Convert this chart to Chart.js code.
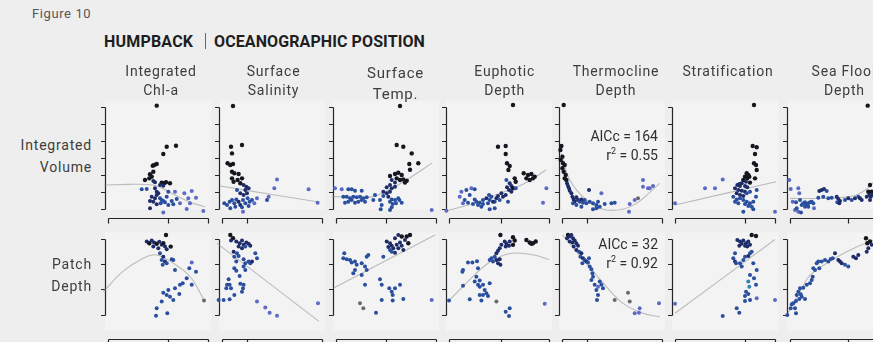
<!DOCTYPE html>
<html><head><meta charset="utf-8">
<script src="https://cdn.jsdelivr.net/npm/chart.js@4.4.1/dist/chart.umd.min.js"></script>
<style>
html,body{margin:0;padding:0;width:873px;height:342px;overflow:hidden;background:#eeeeee;font-family:Roboto,"Open Sans",sans-serif;}
#fig{position:relative;width:873px;height:342px;}
canvas{position:absolute;z-index:1;}
.t{position:absolute;white-space:nowrap;color:#3d3d3d;z-index:3;}
.hdr{width:140px;text-align:center;font-size:14px;line-height:19px;letter-spacing:0.8px;}
.row{width:90px;text-align:right;font-size:14px;line-height:22px;letter-spacing:0.8px;left:0;}
.stat{text-align:right;font-size:14px;line-height:19px;color:#2f2f2f;}
.stat sup{font-size:9px;line-height:0;}
</style></head>
<body><div id="fig"></div>
<script>
// ---------- text ----------
const figureLabel = 'Figure 10';
const titleLeft = 'HUMPBACK';
const titleRight = 'OCEANOGRAPHIC POSITION';
const columnTitles = [['Integrated','Chl-a'],['Surface','Salinity'],['Surface','Temp.'],['Euphotic','Depth'],['Thermocline','Depth'],['Stratification'],['Sea Floor','Depth']];
const rowTitles = [['Integrated','Volume'],['Patch','Depth']];
const statsVol = ['AICc = 164', '0.55'];
const statsDepth = ['AICc = 32', '0.92'];

// ---------- axis ticks ----------
const volTicks = [0,10,20,30,40,50,60];
const depthTicks = [0,10,20,30];
const xTicksByCol = [[0,60,100],[0,25,100],[0,50,100],[0,52.4,100],[0,24.7,100],[0,70,100],[0,58,100]];

// ---------- points [x, y, colourGroup] ----------
const chlVol = [[48.7,60.6,0],[58.7,36.6,0],[68,37.2,0],[55.3,32.3,0],[46.3,25.9,0],[48.7,26.5,0],[44.7,25.5,0],[45.3,22,0],[42,20.5,0],[43.7,19.1,0],[41.3,18.1,0],[37,17.1,0],[45.3,16.5,1],[47,15.8,1],[53.7,15.6,0],[56,15.2,0],[58,15.8,0],[62,15.2,0],[52,14.2,1],[55.3,13.8,1],[33.7,11.7,2],[38.7,11.9,2],[47,12.3,1],[48.7,10.3,1],[50.3,9.4,1],[48.7,8.4,1],[47,6.4,1],[43.7,7.4,1],[42,4.9,1],[45.3,4.4,1],[52,6.4,2],[53.7,5.4,2],[55.3,4.9,2],[52.7,3.5,2],[57,4.1,2],[60.3,10.3,2],[67,10.3,3],[76.3,9.4,3],[83.7,10.7,3],[58.7,7.4,2],[63.7,4.9,2],[68.7,6,2],[72,3.5,3],[80.3,6.4,3],[82,3.5,3],[88,6.8,3],[60.3,2.5,2],[65.3,2.9,2],[55.3,-1.8,3],[78.7,0.2,3],[95.3,-1,3],[-4.7,3.9,2],[48.7,2.9,1],[42,0.6,1]];
const chlDepth = [[44.7,34.5,0],[47,34.1,0],[48.7,34.7,0],[55.3,33.4,0],[68,33.7,0],[58,31.4,0],[38.7,28.8,1],[41.3,28.1,0],[43.7,29.2,1],[46,28.4,1],[48.7,27.9,0],[51.3,28.7,1],[53.7,27.5,1],[55.3,28.1,0],[57,26.8,1],[45.3,26.8,1],[50.3,26.2,1],[58.7,25.8,1],[62.7,26.8,0],[52,24.2,2],[55.3,22.8,1],[53.7,21.5,2],[57,20.9,1],[54.7,19.6,2],[58.7,20.2,2],[63.7,21.8,2],[65.3,21.5,2],[67,17.6,2],[83.7,20.5,3],[81.3,18.3,2],[88,16.9,2],[78.7,14.3,2],[74.7,12.3,2],[72,11.7,2],[83.7,11.7,2],[67,10.4,2],[60.3,9.7,2],[55.3,8.6,2],[58.7,7.7,2],[62,7,2],[65.3,5.7,2],[53.7,5.1,2],[48.7,2.5,2],[59.3,0.5,2],[48,-0.5,2],[33.7,-2.5,4],[40.3,-7.4,3],[-5.3,4,2],[96,5.5,4],[71.3,8.1,2]];
const salVol = [[11,60.4,0],[9,36.6,0],[10,32.7,0],[20,37.6,0],[5.6,26.9,0],[8.3,25.9,0],[11,26.5,0],[10,22,0],[12.3,21.1,0],[16.6,20.6,0],[10,18.1,0],[11.6,16.1,0],[15.6,17.1,0],[18.3,15.2,0],[20,18.1,0],[21.6,14.2,1],[24.3,13.2,1],[26.6,12.3,1],[23.3,11.3,1],[15,11.3,2],[18.3,9.4,1],[21.6,8.4,1],[25,9.4,1],[2.3,3.5,2],[5,2.5,2],[7.6,4.4,2],[10,5.4,2],[12.3,3.5,2],[14.3,5.8,2],[16.6,4.4,1],[18.3,2.5,1],[21,5.4,2],[23.3,3.5,2],[25.6,6.4,2],[27.6,4.4,2],[30,5.4,2],[32.3,3.5,3],[35,6.4,3],[8.3,0.6,2],[13.3,1.5,2],[20,1.2,2],[26.6,1.9,2],[21,-1.4,3],[-5,-0.4,3],[46.6,7.4,3],[45,5.4,2],[55,17.5,3],[52.3,12.3,3],[86.6,11.7,3],[95.6,3.9,3]];
const salDepth = [[5,34.5,0],[7.6,34.1,0],[10,34.7,0],[6.6,33.4,0],[9,32.7,0],[11,33.7,0],[20,33.7,0],[8.3,31.4,0],[11,30.1,0],[9,29.2,1],[14.3,28.8,1],[17.6,28.1,1],[20,29.2,1],[21.6,27.5,1],[24.3,28.4,1],[26.6,27.9,1],[28.3,27.1,1],[16.6,26.8,1],[20,26.2,1],[23.3,26.8,2],[11.6,24.8,1],[15,24.2,2],[12.3,22.8,2],[16.6,23.1,2],[33.3,24.2,2],[35,22.2,2],[21.6,21.8,2],[23.3,20.2,2],[26.6,20.9,2],[28.3,20.2,2],[30,20.9,1],[14.3,20.9,2],[12.3,18.3,2],[14.3,17.3,2],[21.6,18.9,2],[23.3,17.6,2],[17.6,15.2,2],[6.6,13.9,2],[5,11.7,2],[7.6,11.7,2],[9,10.4,2],[4.3,10.4,2],[18.3,12.1,2],[21.6,11.7,2],[21,10.4,2],[20,9,2],[12.3,7.7,2],[-3.4,5.7,2],[1.6,5.7,2],[7.6,6,2],[35,5.1,3],[43.3,2.8,3],[47.6,0.7,3],[55,-0.5,3],[53.3,-7.4,3],[85.6,-2.5,3],[96,4.4,3]];
const tempVol = [[64,60.4,0],[60.7,37.6,0],[67.3,36.6,0],[75.7,32.7,0],[73.3,26.5,0],[82.3,26.9,0],[74,23.1,0],[62.3,21.4,0],[59,20.6,0],[65.7,20.1,0],[54,19.5,0],[60.7,18.1,0],[64,17.1,0],[67.3,17.5,0],[70.7,16.7,0],[55.7,17.1,1],[59,15.6,1],[69,15.6,0],[54,14.2,1],[50.7,12.9,1],[55.7,12.3,1],[59,13.2,1],[47.3,10.3,1],[50.7,9.4,1],[54,10.3,1],[47.3,7.8,2],[52.3,7.4,1],[62.3,6.4,2],[59,5.4,2],[55.7,5.8,2],[54,4.4,2],[56.7,3.1,2],[60,3.5,2],[63.3,5.4,2],[65.7,3.9,2],[55.7,1.2,2],[54,-0.4,2],[44,5.4,2],[45.7,2.5,2],[44.7,0,2],[-4.3,17.1,3],[-1,12.3,3],[7.3,7.4,2],[10.7,7.4,2],[14,6.4,2],[17.3,7.4,2],[20.7,7,2],[24,7.4,2],[27.3,6.4,2],[30.7,7,2],[12.3,4.4,2],[15.7,5.4,2],[19,3.9,2],[22.3,4.4,2],[25.7,5.4,2],[29,4.4,2],[9,3.9,2],[12.3,11.7,2],[15.7,11.7,2],[19,10.9,2],[25.7,10.9,2],[5.7,11.7,3],[37.3,5.4,2],[39,8.4,2],[95.7,-0.4,3]];
const tempDepth = [[70.7,34.1,0],[74,34.7,0],[75.7,33.4,0],[67.3,33.4,0],[82.3,33.4,0],[60.7,33.4,0],[65.7,30.8,0],[62.3,31.4,1],[59,30.1,1],[70.7,30.8,0],[74,31.4,0],[72.3,28.1,0],[69,29.4,1],[64,28.4,1],[50.7,28.8,1],[54,28.1,1],[55.7,27.1,1],[52.3,26.6,1],[57.3,26.2,1],[60.7,27.5,1],[62.3,26.2,1],[55.7,24.8,2],[59,24.4,1],[54,25.5,2],[65.7,27.1,1],[67.3,25.5,1],[47.3,22.8,2],[8.3,24.2,2],[7.3,22.2,2],[10.7,21.8,2],[14,21.5,2],[15.7,20.5,2],[19,20.9,2],[20.7,19.6,2],[19,17.6,2],[17.3,16.3,2],[25.7,20.2,2],[30.7,22.8,2],[32.3,23.5,2],[29,18.9,2],[25.7,15.6,2],[30.7,17.6,2],[44,13.9,2],[45.7,11.7,2],[29,11.7,2],[53.3,10.4,2],[55.7,9,2],[59,10.4,2],[56.7,7.7,2],[64,11.7,2],[45.7,5.7,2],[56.7,5.5,2],[67.3,6.1,2],[24,4.4,4],[27.3,2.5,4],[40,0.7,2],[14,-2.2,2],[-1,-7.4,3],[95.7,5.7,3]];
const euphVol = [[64,61,0],[49,36.6,0],[56.7,37,0],[56.7,32.3,0],[58,26.9,0],[60.7,25.3,0],[59.4,23,0],[65.7,18.1,0],[66.7,16.1,0],[74.7,21.1,0],[79,20.1,0],[82.4,20.6,0],[85.7,19.1,0],[77.4,18.1,0],[80.7,17.1,0],[84,18.1,0],[60.7,15.2,1],[62.4,13.6,1],[58,12.9,1],[60,11.3,1],[64,12.3,0],[62.4,10.3,1],[56.7,8.4,1],[54,7.4,1],[52.4,9.4,1],[49,7.8,1],[47.4,6.4,1],[50.7,5.4,2],[45.7,4.4,2],[42.4,7.4,2],[40,8.4,2],[37.4,6.4,1],[40.7,5.4,2],[44,4.4,1],[39,3.5,2],[34,5.4,2],[30.7,3.9,2],[27.4,4.4,2],[29,2.5,2],[32.4,1.5,2],[34,3.1,2],[12.4,10.3,3],[17.4,11.3,2],[22.4,12.3,3],[25.7,11.7,2],[20.7,8.4,2],[10.7,7.4,3],[15.7,5.4,2],[14,3.5,3],[19,3.9,2],[24,3.1,2],[25.7,5.8,2],[-2.6,-0.8,3],[59,4.4,2],[66.7,12.3,2],[97.4,12.3,3],[94,3.9,3],[57.4,17.1,2],[45.7,0.6,2],[40.7,0,2]];
const euphDepth = [[59,33.7,0],[60.7,34.1,0],[63.4,33.1,0],[57.4,32.7,0],[65.7,33.4,0],[51.4,31.4,0],[77.4,29.4,0],[80.7,28.4,0],[84,28.1,0],[86.7,28.8,0],[82.4,27.9,0],[64,30.5,0],[65.7,29.2,0],[64,27.5,0],[55.7,28.8,1],[57.4,27.9,1],[60,27.1,1],[60.7,28.8,1],[56.7,26.8,1],[52.4,27.5,1],[50.7,26.2,1],[49,25.2,1],[47.4,24.2,1],[45.7,22.8,2],[47.4,21.5,1],[50.7,21.8,1],[49,20.2,1],[51.4,19.6,1],[42.4,22.2,2],[44,20.9,2],[40.7,21.5,2],[19,20.5,2],[23.4,20.5,2],[28,21,2],[14,17.6,2],[13.4,16.9,2],[29,18.3,2],[27.4,14.9,2],[25.7,13,2],[30.7,13.4,2],[14,11.3,2],[29,11.7,2],[30.7,11,2],[34,11.7,2],[40.7,12.3,2],[35.7,9.7,2],[37.4,8.4,2],[39,7.3,2],[34,7.7,2],[20.7,6,2],[30.7,7.7,2],[32.4,5.5,2],[0,5.5,2],[47.4,5.1,4],[60.7,2.5,2],[56.7,1.1,2],[60,-0.6,2],[68,-7.4,3],[95.7,4.2,3],[99,-2.5,3]];
const thermVol = [[1.7,61,0],[-0.6,37,0],[-1.6,34.7,0],[0.4,30.8,0],[-1.3,28.8,0],[1,26.9,0],[2.7,25.9,0],[0.4,24,0],[1.7,22,0],[3.7,20.1,0],[2.7,18.1,0],[4.4,17.1,0],[5,15.2,1],[6,13.6,1],[7,12.3,1],[7.7,10.9,1],[9.4,9.4,1],[10.4,7.4,1],[11.7,5.8,1],[12.7,4.4,1],[14.4,7,1],[16,5.4,1],[17.7,4.4,2],[19.4,5.8,1],[21,3.9,2],[22.7,5.4,2],[24.4,3.5,2],[27.7,4.4,2],[27,11.3,1],[31,3.5,2],[34.4,2.5,2],[37.7,1.5,2],[36,4.4,2],[39.4,9.4,3],[42.7,3.1,2],[49.4,3.5,2],[52.7,3.9,2],[11,3.5,2],[14.4,2.5,2],[19.4,1.5,2],[31,0,2],[34.4,0.6,2],[67,-1.4,3],[67.7,3.1,3],[72.7,5.4,3],[76,6.4,4],[81,17.1,3],[86,12.3,3],[87.7,12.3,3],[91,13.6,3],[81,13.2,3]];
const thermDepth = [[0.4,34.1,0],[-0.6,33.4,0],[1.7,32.7,0],[2.7,33.7,0],[4.4,32.1,0],[6,31.4,0],[7.7,30.8,1],[5,30.1,1],[9.4,31.4,1],[11,30.1,1],[12.7,29.2,1],[10.4,28.4,1],[14.4,28.1,1],[16,27.1,1],[7.7,28.8,1],[11.7,26.8,1],[14.4,25.5,1],[17,24.8,2],[19.4,24.2,1],[18.4,22.8,2],[21,22.2,1],[22.7,21.5,2],[24.4,20.9,1],[26,20.5,2],[20.4,20.2,2],[27,22.2,2],[27.7,18.9,2],[29.4,17.9,2],[30.4,16.3,2],[31,14.9,2],[29.4,13.6,2],[32.7,11.7,2],[36,11,3],[39.4,11.7,2],[41,10.4,2],[34.4,9.7,2],[36,7.7,2],[35,5.7,2],[37.7,13,2],[66,8.6,4],[67.7,5.1,4],[72.7,0.5,3],[77.7,2.5,3],[77,0.7,3],[82.7,-2.2,3],[88.4,-2.2,3],[81,-7.4,3],[52.7,5.7,4],[97,4.4,3]];
const stratVol = [[79,61,0],[77.7,37,0],[81.7,36.3,0],[80,32.3,0],[79,26.9,0],[81,25.9,0],[81.7,23,0],[71.7,21.1,0],[73.3,20.1,0],[70,19.1,0],[74.3,19.1,0],[72.3,18.1,0],[80,18.1,0],[68.3,17.1,0],[71,16.1,1],[66.7,15.2,1],[64.3,14.8,1],[62.3,14.2,1],[65,13.6,1],[70,13.6,1],[72.3,12.9,1],[75,15.6,0],[60,12.3,1],[63.3,11.3,1],[66.7,10.9,1],[70,10.3,1],[61.7,9.4,1],[65,8.4,1],[68.3,7.8,1],[71.7,9.4,2],[75,10.3,2],[58.3,7.4,2],[61.7,5.8,2],[65,6.4,2],[68.3,5.4,2],[71.7,4.4,2],[75,3.5,2],[78.3,4.4,2],[60,4.4,2],[63.3,3.5,2],[70,3.1,2],[73.3,1.9,2],[76.7,1.5,2],[81,7.4,2],[81.7,11.3,2],[68.3,-1.4,2],[78.3,0,2],[47.7,17.5,3],[30,12.3,3],[40,12.3,3],[0,3.5,3],[100,-1.4,3]];
const stratDepth = [[78.3,34.7,0],[80,34.1,0],[81,33.4,0],[79,32.7,0],[81.7,32.3,0],[76.7,31.4,0],[81,31,0],[62.3,29.4,1],[65,28.8,1],[66.7,27.9,1],[64.3,27.1,1],[68.3,29.2,1],[71,28.1,1],[73.3,28.8,1],[75,27.5,1],[72.3,26.8,1],[70,27.1,1],[60,24.2,2],[58.3,22.2,2],[60,20.9,1],[61,20.2,2],[65,20.2,2],[66.7,18.9,2],[68.3,21.5,2],[70,22.8,2],[73.3,23.1,1],[75,24.2,2],[76.7,24.8,2],[78.3,20.2,2],[81.7,17.6,2],[75,15.6,2],[79,14.3,2],[73.3,13,5],[81,11.7,2],[74.3,11,5],[71,9,2],[70,7.3,2],[73.3,8.1,2],[75,5.7,2],[81.7,6.4,3],[70,5.3,2],[61.7,2.5,2],[64.3,0.7,2],[47.7,-0.6,2],[30,-2.5,3],[40,-7.4,3],[0,4.2,3],[100,5.7,3]];
const floorVol = [[77.7,60.6,0],[80,14.2,0],[81.7,10.3,0],[80.7,7.4,1],[-0.7,17.1,3],[0.7,11.9,3],[8.3,12.3,3],[9.3,9.4,3],[2.7,4.4,3],[6,4.1,2],[10,5.4,2],[5,-0.4,3],[8.3,-1.4,3],[11,-1.8,2],[6.7,0.6,2],[11.7,2.5,2],[13.3,3.5,2],[15,4.1,2],[16.7,2.9,2],[18.3,3.5,2],[20,4.1,2],[21.7,4.4,2],[23.3,3.5,2],[18.3,1.5,2],[15,1.5,2],[24,0.6,3],[29.3,10.7,1],[31.7,11.3,1],[34,11.9,1],[36.7,10.7,2],[28.3,6.8,2],[33.3,7.4,2],[38.3,6.4,2],[41.7,6.8,2],[46.7,7.4,1],[48.3,6,1],[50,4.9,1],[47.3,4.1,2],[49.3,3.5,1],[55,5.4,2],[58.3,6.4,1],[61.7,5.4,2],[65,6.4,1],[68.3,7.4,2],[70,6.4,1],[71.7,5.4,1],[76.7,7.4,1],[79.3,8.4,1],[80,5.4,1],[78.3,10.3,0],[81.7,8.4,1]];
const floorDepth = [[76,30.1,0],[77.3,28.1,0],[78.3,26.2,1],[80,28.8,0],[81.7,27.5,1],[76.7,24.8,1],[68.3,23.5,1],[66,22.2,1],[63.3,22.8,1],[55,19.6,2],[58.3,18.9,2],[51.7,20.2,1],[48.3,21.5,1],[50,20.9,1],[45,24.2,1],[42.7,22.2,2],[40.7,21.9,2],[38.3,20.9,2],[35,21.5,2],[31.7,20.9,2],[28.3,20.9,2],[26.7,20.2,2],[29.3,18.3,2],[25,17.6,2],[22.7,14.9,2],[21.7,13.6,2],[20,12.3,2],[16.7,11.7,2],[13.3,10.6,2],[10,10.4,2],[8.3,9,2],[10.7,8,2],[6.7,7.7,2],[11.7,7,2],[9.3,6.1,2],[15,6.1,2],[6,5.3,2],[3.3,4.4,2],[1.7,4,2],[0.7,2.5,2],[5,2.5,2],[6,0.5,2],[-2.7,-0.2,2],[-1.7,-2.6,2],[6.7,-7.4,3],[23.3,18.3,2]];

// ---------- fitted curves [x, y] ----------
const chlVolFit = [[-4,14.2],[20,14.6],[45,14.2],[55,12],[70,7.5],[85,3.5],[97,1.5]];
const chlDepthFit = [[-4.7,9],[15,17],[35.3,22.2],[48.7,23.5],[65.3,20.2],[82,15],[96,5.7]];
const salVolFit = [[-1.7,13.6],[48.3,8.8],[95,4.4]];
const salDepthFit = [[-5,28.1],[45,13],[96.6,-2.6]];
const tempVolFit = [[-4.3,7.4],[20,7.2],[37,7.4],[50,10.5],[70,17],[96,27]];
const tempDepthFit = [[-2.7,10.4],[99,31.4]];
const euphVolFit = [[-3,-1],[25,3.5],[47,8.4],[75,15],[97,23]];
const euphDepthFit = [[0,5.5],[20,13.5],[40,20.5],[55,23.5],[67,24.3],[85,23.5],[100,21.7]];
const thermVolFit = [[-0.6,32.7],[8,17],[24.4,5.5],[44.4,-0.4],[70,2],[97.7,15.2]];
const thermDepthFit = [[0.4,31.4],[24.4,20.2],[44.4,11],[61,4.4],[81,0.5],[97.7,-0.9]];
const stratVolFit = [[0,2.5],[101,16.1]];
const stratDepthFit = [[0,0.5],[100,29.6]];
const floorVolFit = [[0,6.4],[35,6.4],[60,7.4],[72,10],[83,15.4]];
const floorDepthFit = [[-4,-0.9],[10,9],[20,15.5],[36.7,20.2],[56.7,24.8],[80,28.8],[95,30.5]];

const palette = ['#15171f','#1f2c6a','#2b4f9f','#5c69c6','#6a6a6a','#2f86b3'];

const volPanels = [chlVol, salVol, tempVol, euphVol, thermVol, stratVol, floorVol];
const volFits = [chlVolFit, salVolFit, tempVolFit, euphVolFit, thermVolFit, stratVolFit, floorVolFit];
const depthPanels = [chlDepth, salDepth, tempDepth, euphDepth, thermDepth, stratDepth, floorDepth];
const depthFits = [chlDepthFit, salDepthFit, tempDepthFit, euphDepthFit, thermDepthFit, stratDepthFit, floorDepthFit];

// ---------- layout ----------
const fig = document.getElementById('fig');
const colLeft = [108, 221.7, 336, 449.3, 562.3, 675, 790];
const colCenter = [161, 273.5, 395.5, 504.7, 616, 728, 844.5];
const plotW = 100;
const rowsLayout = [
  {top:106.7, bottom:209.3, canvasTop:96, canvasH:130, xGap:8.2},
  {top:238.5, bottom:314.5, canvasTop:224, canvasH:118, xGap:24.5}
];

function addText(cls, html, style){
  const d = document.createElement('div');
  d.className = 't ' + cls; d.innerHTML = html;
  Object.assign(d.style, style); fig.appendChild(d); return d;
}
addText('', figureLabel, {left:'32px', top:'6px', fontSize:'13px', letterSpacing:'0.6px', color:'#555'});
addText('', titleLeft, {left:'104px', top:'32px', fontSize:'16px', fontWeight:'700', color:'#1e1e1e', letterSpacing:'0.2px'});
addText('', '', {left:'205px', top:'33px', width:'0', height:'16px', borderLeft:'1.2px solid #666'});
addText('', titleRight, {left:'214px', top:'32px', fontSize:'16px', fontWeight:'700', color:'#1e1e1e', letterSpacing:'0.1px'});
columnTitles.forEach((lines, i) => {
  const big = i === 2;
  addText('hdr', lines.join('<br>'), {left:(colCenter[i]-70)+'px', top: big ? '63px' : '62px', fontSize: big ? '15px' : '14px', lineHeight: big ? '21px' : '19px'});
});
addText('row', rowTitles[0].join('<br>'), {top:'134px', width:'92px'});
addText('row', rowTitles[1].join('<br>'), {top:'253px', width:'92px'});
addText('stat', statsVol[0] + '<br>r<sup>2</sup> = ' + statsVol[1], {right:'215px', top:'127px'});
addText('stat', statsDepth[0] + '<br>r<sup>2</sup> = ' + statsDepth[1], {right:'215px', top:'235px'});

// ---------- plugins ----------
const panelFill = {
  id:'panelFill',
  beforeDatasetsDraw(chart){
    const {ctx, chartArea:a} = chart;
    ctx.save(); ctx.fillStyle = '#f3f3f3';
    ctx.fillRect(a.left-3, a.top-6, a.right-a.left+6, a.bottom-a.top+ chart.options.plugins.bracketAxes.xGap - 2);
    ctx.restore();
  }
};
const bracketAxes = {
  id:'bracketAxes',
  beforeDatasetsDraw(chart, args, o){
    const {ctx, scales:{x, y}} = chart;
    const r = v => Math.round(v) + 0.5;
    ctx.save();
    ctx.strokeStyle = '#262626'; ctx.lineWidth = 1.2;
    ctx.beginPath();
    const yx = r(x.getPixelForValue(o.xTicks[0]) - o.yGap);
    const yt = o.yTicks;
    ctx.moveTo(yx, r(y.getPixelForValue(yt[0]))); ctx.lineTo(yx, r(y.getPixelForValue(yt[yt.length-1])));
    yt.forEach(v => { const py = r(y.getPixelForValue(v)); ctx.moveTo(yx-4.5, py); ctx.lineTo(yx, py); });
    const xy = r(y.getPixelForValue(yt[0]) + o.xGap);
    const xt = o.xTicks;
    ctx.moveTo(r(x.getPixelForValue(xt[0])), xy); ctx.lineTo(r(x.getPixelForValue(xt[xt.length-1])), xy);
    xt.forEach(v => { const px = r(x.getPixelForValue(v)); ctx.moveTo(px, xy); ctx.lineTo(px, xy+5); });
    ctx.stroke(); ctx.restore();
  }
};

function makePanel(col, rowIdx, pts, fit, yTicks){
  const L = rowsLayout[rowIdx];
  const padL = 16, padR = 16;
  const cv = document.createElement('canvas');
  const w = plotW + padL + padR;
  cv.width = w; cv.height = L.canvasH;
  cv.style.left = (colLeft[col] - padL) + 'px';
  cv.style.top = L.canvasTop + 'px';
  cv.style.width = w + 'px'; cv.style.height = L.canvasH + 'px';
  fig.appendChild(cv);
  new Chart(cv, {
    type:'scatter',
    data:{datasets:[
      {data: fit.map(p => ({x:p[0], y:p[1]})), showLine:true, tension:0.4, borderColor:'rgba(150,150,150,0.6)', borderWidth:1.1, pointRadius:0, clip:false, order:2},
      {data: pts.map(p => ({x:p[0], y:p[1]})), pointBackgroundColor: pts.map(p => palette[p[2]]), pointBorderWidth:0, pointRadius: pts.map(p => p[2]===0 ? 2.2 : 2.0), clip:false, order:1}
    ]},
    options:{
      responsive:false, animation:false, events:[],
      devicePixelRatio:1,
      layout:{padding:{left:padL, right:padR, top:L.top - L.canvasTop, bottom:(L.canvasTop + L.canvasH) - L.bottom}},
      plugins:{legend:{display:false}, tooltip:{enabled:false},
        bracketAxes:{yTicks:yTicks, xTicks:xTicksByCol[col], yGap:3.5, xGap:L.xGap}},
      scales:{
        x:{type:'linear', min:0, max:100, display:false},
        y:{type:'linear', min:yTicks[0], max:yTicks[yTicks.length-1], display:false}
      }
    },
    plugins:[panelFill, bracketAxes]
  });
}

for (let c = 0; c < 7; c++){
  makePanel(c, 0, volPanels[c], volFits[c], volTicks);
  makePanel(c, 1, depthPanels[c], depthFits[c], depthTicks);
}
</script>
</body></html>
